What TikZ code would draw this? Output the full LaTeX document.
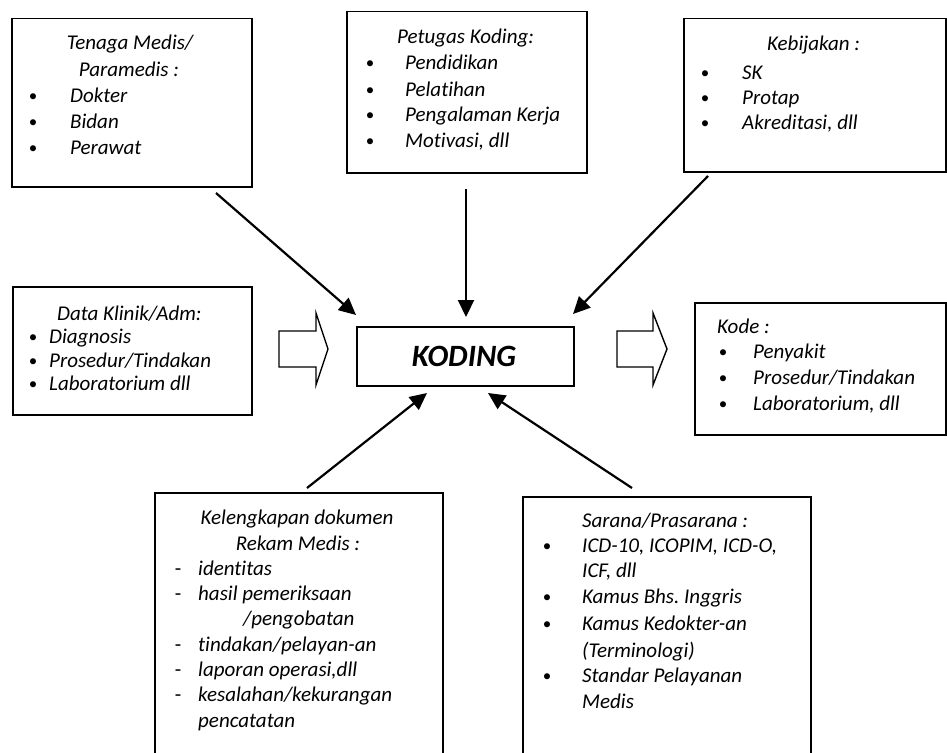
\documentclass[tikz,border=0pt]{standalone}
\usepackage{fontspec}
\setmainfont{Carlito}[Ligatures={CommonOff,TeX}]
\usetikzlibrary{arrows.meta}
\frenchspacing
\begin{document}
\begin{tikzpicture}[x=1pt,y=-1pt,
 box/.style={draw, line width=1.5pt, anchor=north west, inner sep=0pt},
 tx/.style={anchor=base west, inner sep=0pt, font=\fontsize{21}{25}\selectfont\itshape},
 tc/.style={anchor=base, inner sep=0pt, font=\fontsize{21}{25}\selectfont\itshape},
 bul/.style={anchor=base, inner sep=0pt, font=\fontsize{17}{25}\selectfont},
 dsh/.style={anchor=base, inner sep=0pt, font=\fontsize{21}{25}\selectfont},
 con/.style={line width=2.2pt, -{Triangle[length=17pt,width=16pt]}},
 blk/.style={draw, line width=1.4pt, fill=white, line join=miter}]
\useasboundingbox (0,0) rectangle (947,752);

% boxes
\node[box, minimum width=240, minimum height=168] (b1) at (11,18) {};
\node[box, minimum width=240, minimum height=161] (b2) at (346,11) {};
\node[box, minimum width=262, minimum height=153] (b3) at (683,18) {};
\node[box, minimum width=239, minimum height=128] (b4) at (12,286) {};
\node[box, minimum width=217, minimum height=59] (kod) at (356,326) {};
\node[box, minimum width=251, minimum height=132] (b5) at (694,302) {};
\node[box, minimum width=288, minimum height=272] (b6) at (154,492) {};
\node[box, minimum width=288, minimum height=268] (b7) at (522,496) {};

\node[anchor=center, inner sep=0pt, font=\fontsize{31}{36}\selectfont\bfseries\itshape] (kodt) at (464,356) {KODING};

% box 1
\node[tc] (b1a) at (130,50) {Tenaga Medis/};
\node[tc] (b1b) at (129,77) {Paramedis :};
\node[bul] (b1u1) at (33,101) {\textbullet}; \node[tx] (b1c) at (70,102) {Dokter};
\node[bul] (b1u2) at (33,127) {\textbullet}; \node[tx] (b1d) at (70,128) {Bidan};
\node[bul] (b1u3) at (33,153) {\textbullet}; \node[tx] (b1e) at (70,154) {Perawat};

% box 2
\node[tx] (b2a) at (397,44) {Petugas Koding:};
\node[bul] (b2u1) at (370,69) {\textbullet}; \node[tx] (b2b) at (405,70) {Pendidikan};
\node[bul] (b2u2) at (370,95) {\textbullet}; \node[tx] (b2c) at (405,96) {Pelatihan};
\node[bul] (b2u3) at (370,120) {\textbullet}; \node[tx] (b2d) at (405,121) {Pengalaman Kerja};
\node[bul] (b2u4) at (370,146) {\textbullet}; \node[tx] (b2e) at (405,147) {Motivasi, dll};

% box 3
\node[tx] (b3a) at (767,51) {Kebijakan :};
\node[bul] (b3u1) at (705,78) {\textbullet}; \node[tx] (b3b) at (742,79) {SK};
\node[bul] (b3u2) at (705,103) {\textbullet}; \node[tx] (b3c) at (742,104) {Protap};
\node[bul] (b3u3) at (705,128) {\textbullet}; \node[tx] (b3d) at (742,129) {Akreditasi, dll};

% box 4
\node[tx] (b4a) at (57,320) {Data Klinik/Adm:};
\node[bul] (b4u1) at (33,342) {\textbullet}; \node[tx] (b4b) at (49,343) {Diagnosis};
\node[bul] (b4u2) at (33,366) {\textbullet}; \node[tx] (b4c) at (49,367) {Prosedur/Tindakan};
\node[bul] (b4u3) at (33,389) {\textbullet}; \node[tx] (b4d) at (49,390) {Laboratorium dll};

% box 5
\node[tx] (b5a) at (717,333) {Kode :};
\node[bul] (b5u1) at (723,357) {\textbullet}; \node[tx] (b5b) at (753,358) {Penyakit};
\node[bul] (b5u2) at (723,383) {\textbullet}; \node[tx] (b5c) at (753,384) {Prosedur/Tindakan};
\node[bul] (b5u3) at (723,409) {\textbullet}; \node[tx] (b5d) at (753,410) {Laboratorium, dll};

% box 6
\node[tc] (b6a) at (297,524) {Kelengkapan dokumen};
\node[tc] (b6b) at (298,550) {Rekam Medis :};
\node[dsh] (b6u1) at (178,575) {-}; \node[tx] (b6c) at (198,575) {identitas};
\node[dsh] (b6u2) at (178,600) {-}; \node[tx] (b6d) at (198,600) {hasil pemeriksaan};
\node[tx] (b6e) at (243,625) {/pengobatan};
\node[dsh] (b6u3) at (178,651) {-}; \node[tx] (b6f) at (198,651) {tindakan/pelayan-an};
\node[dsh] (b6u4) at (178,676) {-}; \node[tx] (b6g) at (198,676) {laporan operasi,dll};
\node[dsh] (b6u5) at (178,701) {-}; \node[tx] (b6h) at (198,701) {kesalahan/kekurangan};
\node[tx] (b6i) at (198,727) {pencatatan};

% box 7
\node[tx] (b7a) at (582,527) {Sarana/Prasarana :};
\node[bul] (b7u1) at (547,551) {\textbullet}; \node[tx] (b7b) at (582,552) {ICD-10, ICOPIM, ICD-O,};
\node[tx] (b7c) at (582,577) {ICF, dll};
\node[bul] (b7u2) at (547,602) {\textbullet}; \node[tx] (b7d) at (582,603) {Kamus Bhs. Inggris};
\node[bul] (b7u3) at (547,629) {\textbullet}; \node[tx] (b7e) at (582,630) {Kamus Kedokter-an};
\node[tx] (b7f) at (582,657) {(Terminologi)};
\node[bul] (b7u4) at (547,681) {\textbullet}; \node[tx] (b7g) at (582,682) {Standar Pelayanan};
\node[tx] (b7h) at (582,708) {Medis};

% block arrows
\draw[blk] (279,331) -- (316,331) -- (316,313) -- (328,349) -- (316,385) -- (316,367) -- (279,367) -- cycle;
\draw[blk] (617,331) -- (653,331) -- (653,313) -- (667,349) -- (653,385) -- (653,367) -- (617,367) -- cycle;

% connectors
\coordinate (a1s) at (216,193); \coordinate (a1e) at (356,315);
\coordinate (a2s) at (466,189); \coordinate (a2e) at (466,317);
\coordinate (a3s) at (708,176); \coordinate (a3e) at (573,314);
\coordinate (a4s) at (307,488); \coordinate (a4e) at (427,393);
\coordinate (a5s) at (632,488); \coordinate (a5e) at (488,393);
\draw[con] (a1s) -- (a1e);
\draw[con] (a2s) -- (a2e);
\draw[con] (a3s) -- (a3e);
\draw[con] (a4s) -- (a4e);
\draw[con] (a5s) -- (a5e);
\end{tikzpicture}
\end{document}
